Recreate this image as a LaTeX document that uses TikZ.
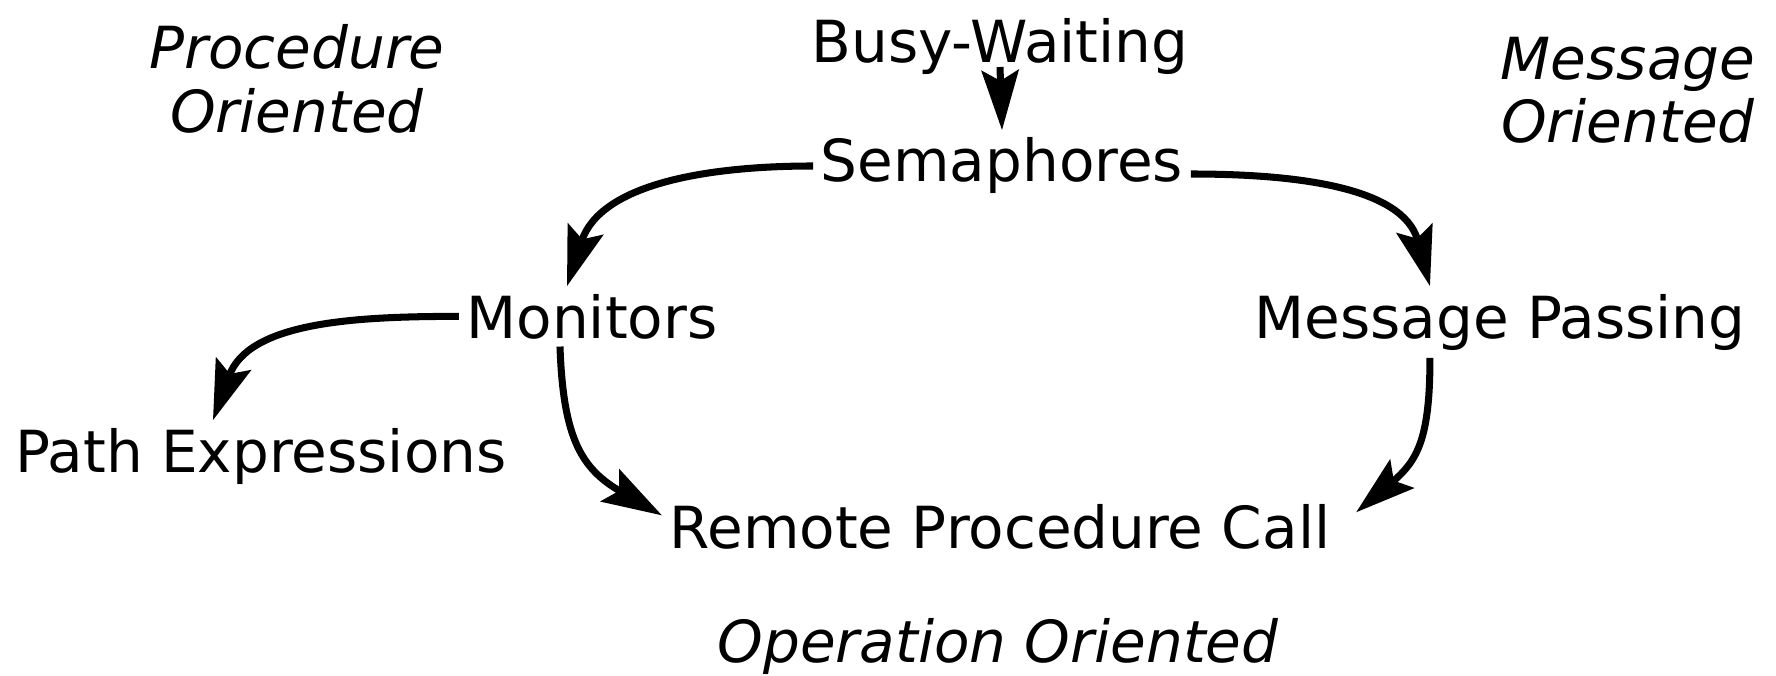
\documentclass[tikz,border=0pt]{standalone}
\usepackage{fontspec}
\setmainfont{DejaVu Sans}[ItalicFont={DejaVu Sans Oblique}]
\usetikzlibrary{arrows.meta}

\begin{document}
\begin{tikzpicture}[
    x=0.01cm, y=0.01cm,
    term/.style={inner sep=2pt, font=\fontsize{16.5}{18}\selectfont},
    family/.style={inner sep=2pt, align=center,
                   font=\fontsize{16.5}{18}\selectfont\itshape},
    arr/.style={-{Stealth[length=17pt, width=10.5pt, inset=3pt]},
                line width=2pt},
]

\path[use as bounding box] (0,0) rectangle (1776,-676);

% ══════════════════════════════════════
%  Mechanisms
% ══════════════════════════════════════

\node[term, anchor=base] (busy) at (1000,-63)  {Busy-Waiting};
\node[term, anchor=base] (sema) at (1002,-182) {Semaphores};
\node[term, anchor=base] (mon)  at (592,-338)  {Monitors};
\node[term, anchor=base] (msgp) at (1500,-338) {Message Passing};
\node[term, anchor=base] (path) at (261,-472)  {Path Expressions};
\node[term, anchor=base] (rpc)  at (1000,-548) {Remote Procedure Call};

% ══════════════════════════════════════
%  Families
% ══════════════════════════════════════

\node[family] (procor) at (297,-79)  {Procedure\\Oriented};
\node[family] (msgor)  at (1628,-90) {Message\\Oriented};
\node[family, anchor=base] (opor) at (998,-662) {Operation Oriented};

% ══════════════════════════════════════
%  ARROWS
% ══════════════════════════════════════

\draw[arr] ([yshift=-0.04cm]busy.base) -- (sema.north);

\draw[arr] (sema.west) to[out=180, in=72]
    ([xshift=-0.25cm]mon.north);
\draw[arr] ([yshift=-0.08cm]sema.east) to[out=0, in=105]
    ([xshift=-0.7cm]msgp.north);

\draw[arr] (mon.west) to[out=180, in=70]
    ([xshift=-0.48cm]path.north);
\draw[arr] ([xshift=-0.32cm]mon.south) to[out=-88, in=150, looseness=1.2]
    ([yshift=0.11cm]rpc.west);

\draw[arr] ([xshift=-0.7cm]msgp.south) to[out=-90, in=40, looseness=1.2]
    ([xshift=0.18cm, yshift=0.14cm]rpc.east);

\end{tikzpicture}
\end{document}
